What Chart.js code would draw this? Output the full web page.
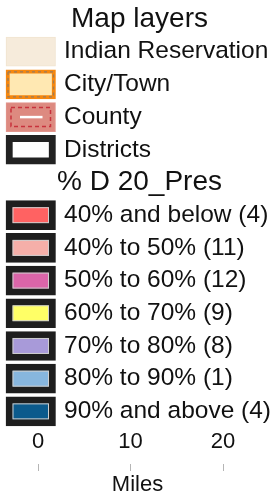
<!DOCTYPE html>
<html>
<head>
<meta charset="utf-8">
<script src="https://cdn.jsdelivr.net/npm/chart.js@4.4.0/dist/chart.umd.min.js"></script>
<style>
  html, body { margin: 0; padding: 0; background: #fff; }
  canvas { display: block; }
</style>
</head>
<body>
<canvas id="legend" width="275" height="495"></canvas>
<script>
const sectionTitles = ['Map layers', '% D 20_Pres'];
const layerNames = ['Indian Reservation', 'City/Town', 'County', 'Districts'];
const classRanges = ['40% and below', '40% to 50%', '50% to 60%', '60% to 70%', '70% to 80%', '80% to 90%', '90% and above'];
const classCounts = [4, 11, 12, 9, 8, 1, 4];
const classColors = ['#FF6262', '#F5AFA9', '#DB65A9', '#FFFF66', '#A89AD9', '#87B6DE', '#0B5A8C'];
const scaleTicks = [0, 10, 20];
const scaleUnit = 'Miles';

const FONT = "'Liberation Sans', Arial, sans-serif";
const TEXT = '#111111';

// rows top to bottom: title, layers, title, classes
const titleRows = [0, layerNames.length + 1];
const entryRows = [];
const entryLabels = [];
layerNames.forEach((name, i) => {
    entryRows.push(i + 1);
    entryLabels.push(name);
});
classRanges.forEach((range, i) => {
    entryRows.push(i + layerNames.length + 2);
    entryLabels.push(`${range} (${classCounts[i]})`);
});

function labelForRow(v) {
    let i = entryRows.indexOf(v);
    if (i >= 0) return entryLabels[i];
    i = titleRows.indexOf(v);
    if (i >= 0) return sectionTitles[i];
    return '';
}

// axis boxes are sized by hand so the tick padding does not eat the plot area
function fixBox(size) {
    return axis => {
        if (axis.isHorizontal()) axis.height = size;
        else axis.width = size;
        axis.paddingTop = axis.paddingBottom = axis.paddingLeft = axis.paddingRight = 0;
    };
}

const fills = ['#F6EBDB', '#FFE8B2', '#DD8A80', '#FFFFFF', ...classColors];
const borders = ['#F1E4D0', '#F5870F', '#E2978E', '#222222', ...classColors.map(() => '#1E1E1E')];
const borderWidths = [1, 4, 1, 7, ...classColors.map(() => 7)];

const swatchDetails = {
    id: 'swatchDetails',
    afterDatasetsDraw(chart) {
        const ctx = chart.ctx;
        const bars = chart.getDatasetMeta(0).data;
        bars.forEach((bar, i) => {
            const p = bar.getProps(['x', 'y', 'base', 'height'], true);
            const left = Math.min(p.x, p.base);
            const right = Math.max(p.x, p.base);
            const top = p.y - p.height / 2;
            const bottom = p.y + p.height / 2;
            ctx.save();
            if (i === 1) {
                ctx.setLineDash([3, 3]);
                ctx.strokeStyle = 'rgba(130,120,110,0.8)';
                ctx.lineWidth = 1.2;
                ctx.strokeRect(left + 2, top + 2, right - left - 4, bottom - top - 4);
            } else if (i === 2) {
                ctx.setLineDash([4, 3]);
                ctx.strokeStyle = '#C8323C';
                ctx.lineWidth = 1.5;
                ctx.strokeRect(left + 5, top + 5, right - left - 10, bottom - top - 10);
                ctx.setLineDash([]);
                ctx.strokeStyle = '#FFFFFF';
                ctx.lineWidth = 2.5;
                ctx.beginPath();
                ctx.moveTo(left + 14, p.y);
                ctx.lineTo(right - 13, p.y);
                ctx.stroke();
            } else if (i >= layerNames.length) {
                ctx.strokeStyle = '#CFCFCF';
                ctx.lineWidth = 1;
                ctx.strokeRect(left + 7, top + 7, right - left - 14, bottom - top - 14);
            }
            ctx.restore();
        });
    }
};

const rowMin = -0.581;
const rowMax = 13.61;

new Chart(document.getElementById('legend'), {
    type: 'bar',
    data: {
        datasets: [{
            data: entryRows.map(r => ({ x: 1, y: r })),
            backgroundColor: fills,
            borderColor: borders,
            borderWidth: borderWidths,
            borderSkipped: false,
            barThickness: 29,
            xAxisID: 'x2',
            yAxisID: 'y'
        }]
    },
    options: {
        responsive: false,
        animation: false,
        indexAxis: 'y',
        layout: { padding: 0 },
        plugins: {
            legend: { display: false },
            tooltip: { enabled: false }
        },
        scales: {
            x2: { type: 'linear', display: false, min: -0.1212, max: 5.434 },
            x: {
                type: 'linear',
                position: 'bottom',
                min: -4.108,
                max: 25.62,
                afterBuildTicks: axis => { axis.ticks = scaleTicks.map(v => ({ value: v })); },
                afterFit: fixBox(31),
                grid: { drawOnChartArea: false, drawTicks: true, tickLength: 7, color: '#b5b5b5' },
                border: { display: false },
                ticks: { mirror: true, padding: 9, autoSkip: false, maxRotation: 0, color: TEXT, font: { size: 22, family: FONT } },
                title: { display: true, text: scaleUnit, color: TEXT, font: { size: 22, family: FONT }, padding: { top: 0, bottom: -3 } }
            },
            y: {
                type: 'linear',
                position: 'left',
                reverse: true,
                offset: false,
                min: rowMin,
                max: rowMax,
                afterBuildTicks: axis => { axis.ticks = entryRows.map(v => ({ value: v })); },
                afterFit: fixBox(0),
                grid: { display: false, offset: false },
                border: { display: false },
                ticks: { mirror: true, padding: 64, autoSkip: false, color: TEXT, font: { size: 24.5, family: FONT }, callback: v => labelForRow(v) }
            },
            y2: {
                type: 'linear',
                position: 'left',
                reverse: true,
                offset: false,
                min: rowMin,
                max: rowMax,
                afterBuildTicks: axis => { axis.ticks = titleRows.map(v => ({ value: v })); },
                afterFit: fixBox(0),
                grid: { display: false, offset: false },
                border: { display: false },
                ticks: { mirror: true, crossAlign: 'center', padding: 57, autoSkip: false, color: TEXT, font: { size: 28, family: FONT }, callback: v => labelForRow(v) }
            }
        }
    },
    plugins: [swatchDetails]
});
</script>
</body>
</html>
